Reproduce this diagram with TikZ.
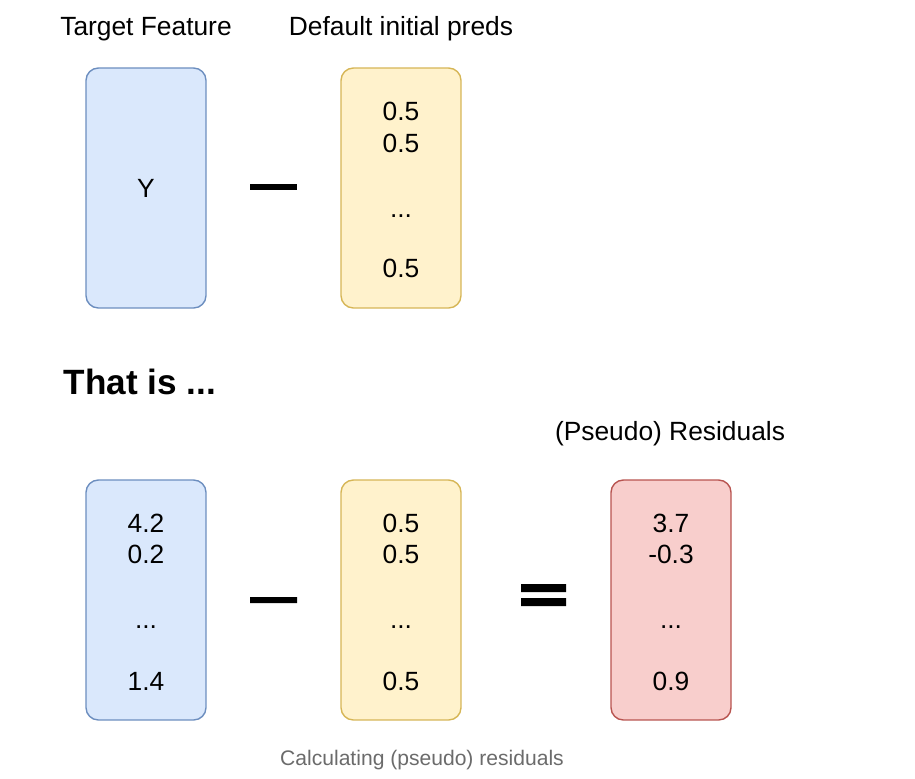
\documentclass[tikz,border=0pt]{standalone}
\usepackage{fontspec}
\setmainfont{Liberation Sans}
\usepackage{xcolor}
\usepackage{tikz}
\usetikzlibrary{positioning}

\definecolor{blueFill}{HTML}{DAE8FC}
\definecolor{blueLine}{HTML}{6C8EBF}
\definecolor{yellowFill}{HTML}{FFF2CC}
\definecolor{yellowLine}{HTML}{D6B656}
\definecolor{redFill}{HTML}{F8CECC}
\definecolor{redLine}{HTML}{B85450}
\definecolor{captionGray}{HTML}{6B6B6B}

\begin{document}
\begin{tikzpicture}[x=0.02cm, y=-0.02cm,
    every node/.style={font=\fontsize{15}{18}\selectfont, inner sep=0pt},
    column/.style={rounded corners=7pt, line width=0.8pt, minimum width=2.4cm, minimum height=4.8cm},
    bluecol/.style={column, draw=blueLine, fill=blueFill},
    yellowcol/.style={column, draw=yellowLine, fill=yellowFill},
    redcol/.style={column, draw=redLine, fill=redFill},
    opbar/.style={fill=black}]
    \useasboundingbox (0,0) rectangle (915,778);

    % top row
    \node at (146,29) (targetLabel) {Target Feature};
    \node at (401,29) (predsLabel) {Default initial preds};

    \node[bluecol] (targetTop) at (146,188) {};
    \node[yellowcol] (predsTop) at (401,188) {};

    \node at (146,188) (yValue) {Y};
    \node at (401,111) (pt1) {0.5};
    \node at (401,143) (pt2) {0.5};
    \node at (401,216) (pt3) {...};
    \node at (401,268) (pt4) {0.5};

    \path[opbar] (250,184) rectangle (297,190);

    % bottom row
    \node[font=\fontsize{20}{24}\selectfont\bfseries] at (140,382) (thatIs) {That is ...};
    \node at (670,434) (residLabel) {(Pseudo) Residuals};

    \node[bluecol] (targetBot) at (146,600) {};
    \node[yellowcol] (predsBot) at (401,600) {};
    \node[redcol] (residBot) at (671,600) {};

    \node at (146,523) (tb1) {4.2};
    \node at (146,554) (tb2) {0.2};
    \node at (146,627) (tb3) {...};
    \node at (146,681) (tb4) {1.4};

    \node at (401,523) (pb1) {0.5};
    \node at (401,554) (pb2) {0.5};
    \node at (401,627) (pb3) {...};
    \node at (401,681) (pb4) {0.5};

    \node at (671,523) (rb1) {3.7};
    \node at (671,554) (rb2) {-0.3};
    \node at (671,627) (rb3) {...};
    \node at (671,681) (rb4) {0.9};

    \path[opbar] (250,597) rectangle (297,603)
                 (521,584) rectangle (566,592)
                 (521,598) rectangle (566,606);

    \node[font=\fontsize{12}{14}\selectfont, text=captionGray] at (422,760) (caption) {Calculating (pseudo) residuals};
\end{tikzpicture}
\end{document}
